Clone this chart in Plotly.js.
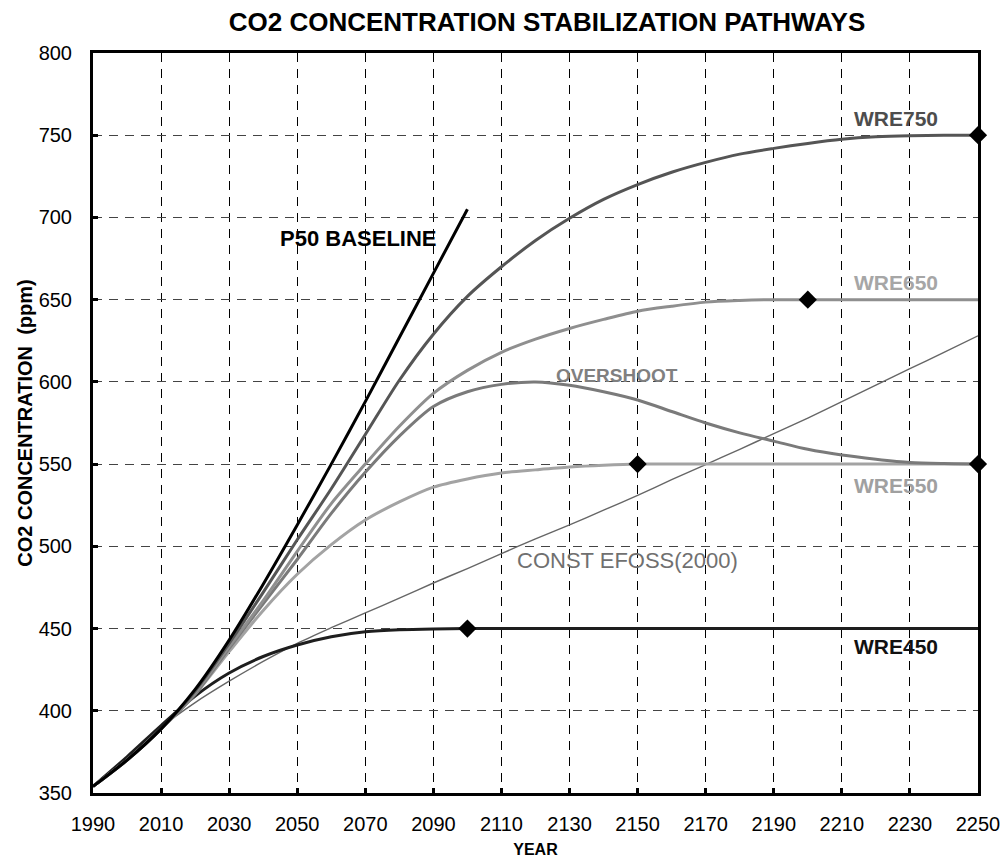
<!DOCTYPE html>
<html>
<head>
<meta charset="utf-8">
<script src="https://cdn.plot.ly/plotly-3.0.1.min.js"></script>
<style>html,body{margin:0;padding:0;background:#fff;}#chart{width:1005px;height:862px;}</style>
</head>
<body>
<div id="chart"></div>
<script>
const years = [1990,2000,2010,2020,2030,2040,2050,2060,2070,2080,2090,2100,2110,2120,2130,2140,2150,2160,2170,2180,2190,2200,2210,2220,2230,2240,2250];
const p50Years = [1990,2000,2010,2020,2030,2040,2050,2060,2070,2080,2090,2100];
const p50 = [354,370,389,413,443,477,513,550,588,627,666,705];
const wre750 = [354,370,389,412,441,472,504,535,568,601,629,652,670,686,699.5,711,720,727.5,733.5,738.5,742,745,747.5,749,749.7,750,750];
const wre650 = [354,370,389,411,439,467,497,526,550,573,593,607,618,626,632.5,638,643,646,648.5,649.5,650,650,650,650,650,650,650];
const overshoot = [354,370,389,410,438,465,492,520,545,567,585,594,598.5,600,598,594,589,582,575,569,564,559,555.5,553,551,550.3,550];
const wre550 = [354,370,389,410,436,461,483,501,516,527,536,541,544.6,546.5,548.2,549.3,550,550,550,550,550,550,550,550,550,550,550];
const wre450 = [354,372,391,409,423,433,440,445,448,449.3,449.8,450,450,450,450,450,450,450,450,450,450,450,450,450,450,450,450];
const efoss = [354,372,390,405,418,430,441,450.5,459.5,468.5,477.7,486.5,495.6,504.5,513,522,531,540.5,549.7,559,568.5,578,588,598,608,618,628];
const markerX = [2100,2150,2200,2250,2250];
const markerY = [450,550,650,750,550];
const labels = [
  {text:'WRE750', x:2226, y:760, color:'#4d4d4d', bold:true, size:21},
  {text:'WRE650', x:2226, y:660.5, color:'#a6a6a6', bold:true, size:21},
  {text:'OVERSHOOT', x:2144, y:604, color:'#808080', bold:true, size:19},
  {text:'WRE550', x:2226, y:537, color:'#a0a0a0', bold:true, size:21},
  {text:'WRE450', x:2226, y:439.2, color:'#111111', bold:true, size:21},
  {text:'P50 BASELINE', x:2068, y:687.3, color:'#000000', bold:true, size:22},
  {text:'CONST EFOSS(2000)', x:2147, y:491.5, color:'#707070', bold:false, size:22}
];
const xTicks = [1990,2010,2030,2050,2070,2090,2110,2130,2150,2170,2190,2210,2230,2250];

const font = 'Liberation Sans, Arial, sans-serif';
function line(x,y,color,width){
  return {x:x,y:y,type:'scatter',mode:'lines',line:{color:color,width:width,shape:'spline',smoothing:0.8},hoverinfo:'skip',cliponaxis:false};
}
const traces = [
  line(years,efoss,'#666666',1.4),
  line(years,wre450,'#1e1e1e',3),
  line(years,wre550,'#a3a3a3',3),
  line(years,overshoot,'#7a7a7a',3),
  line(years,wre650,'#8f8f8f',3),
  line(years,wre750,'#555555',3),
  line(p50Years,p50,'#000000',3),
  {x:markerX,y:markerY,type:'scatter',mode:'markers',marker:{symbol:'diamond',size:14,color:'#000'},cliponaxis:false,hoverinfo:'skip'}
];
const layout = {
  width:1005, height:862,
  margin:{l:93,r:27,t:53,b:69},
  paper_bgcolor:'#fff', plot_bgcolor:'#fff',
  showlegend:false,
  font:{family:font,color:'#000'},
  title:{text:'<b>CO2 CONCENTRATION STABILIZATION PATHWAYS</b>',x:547/1005,xanchor:'center',y:1-22/862,yanchor:'middle',font:{size:26,family:font,color:'#000'}},
  xaxis:{range:[1990,2250],tickvals:xTicks,ticktext:xTicks.map(String),ticks:'inside',ticklen:5,tickwidth:3,tickcolor:'#000',
    showline:true,linewidth:3,linecolor:'#000',mirror:true,zeroline:false,
    showgrid:true,gridcolor:'#000',gridwidth:1,griddash:'9px,7px',
    tickfont:{size:20,family:font,color:'#000'},ticklabelstandoff:11,
    title:{text:'<b>YEAR</b>',font:{size:16,family:font,color:'#000'},standoff:10}},
  yaxis:{range:[350,800],dtick:50,tick0:350,ticks:'inside',ticklen:5,tickwidth:3,tickcolor:'#000',
    showline:true,linewidth:3,linecolor:'#000',mirror:true,zeroline:false,
    showgrid:true,gridcolor:'#444',gridwidth:1,griddash:'9px,7px',
    tickfont:{size:20,family:font,color:'#000'},ticklabelstandoff:14,
    title:{text:'<b>CO2 CONCENTRATION  (ppm)</b>',font:{size:20,family:font,color:'#000'},standoff:1}},
  annotations: labels.map(l=>({x:l.x,y:l.y,xref:'x',yref:'y',text:l.bold?'<b>'+l.text+'</b>':l.text,showarrow:false,
    font:{size:l.size,family:font,color:l.color},xanchor:'center',yanchor:'middle'}))
};
Plotly.newPlot('chart',traces,layout,{displayModeBar:false,staticPlot:true});
</script>
</body>
</html>
